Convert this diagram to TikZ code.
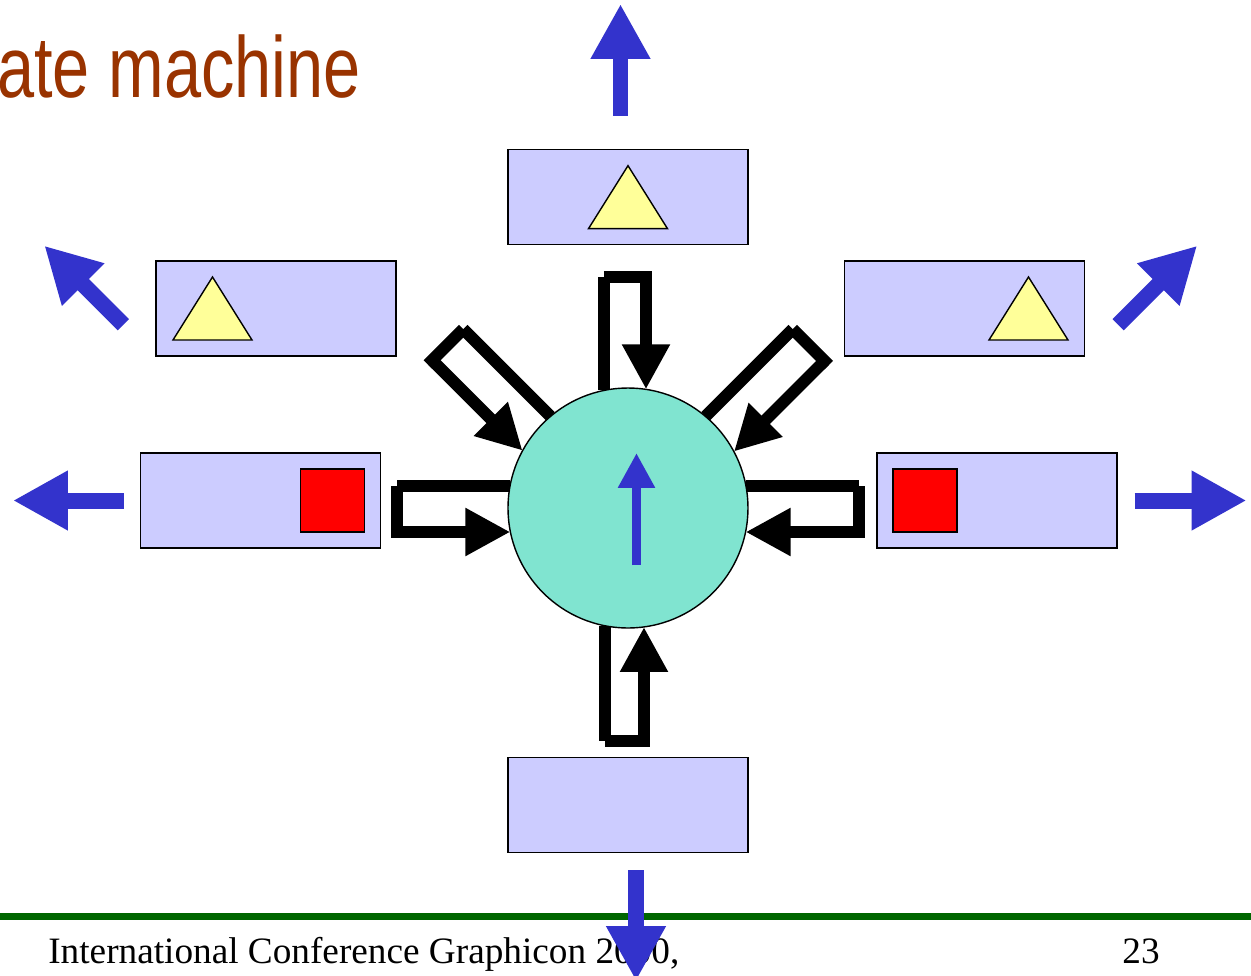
\documentclass[tikz,border=0pt]{standalone}
\usepackage{fontspec}
\usetikzlibrary{arrows.meta}
\usetikzlibrary{positioning}
\usetikzlibrary{calc}
\newfontfamily\titlefont[FakeStretch=0.77]{Liberation Sans}
\newfontfamily\footfont{Liberation Serif}
\definecolor{slotblue}{RGB}{204,204,255}
\definecolor{coregreen}{RGB}{128,228,208}
\definecolor{outblue}{RGB}{51,51,204}
\definecolor{tokenyellow}{RGB}{255,255,153}
\definecolor{titlebrown}{RGB}{153,51,0}
\definecolor{footgreen}{RGB}{0,102,0}
\tikzset{node distance=2.5cm,
    slot/.style={
        draw,
        line width=0.8pt,
        fill=slotblue,
        minimum width=4.8cm,
        minimum height=1.9cm,
        inner sep=0pt},
    core/.style={
        circle,
        draw,
        line width=0.8pt,
        fill=coregreen,
        minimum size=4.8cm,
        inner sep=0pt},
    token/.style={
        draw,
        line width=0.8pt,
        fill=tokenyellow},
    flag/.style={
        draw,
        line width=0.8pt,
        fill=red,
        minimum width=1.28cm,
        minimum height=1.26cm,
        inner sep=0pt},
    emit/.style={
        draw=outblue,
        line width=0.32cm,
        -{Triangle[length=1.1cm,width=1.12cm,color=outblue]}},
    feed/.style={
        draw,
        line width=0.24cm},
    feedback/.style={
        feed,
        -{Triangle[length=0.9cm,width=0.9cm]}}}

% out of the state, across, and back in with a head
% #1 direction, #2 outgoing side, #3 returning side, #4 reach
\newcommand{\selfloop}[4]{%
    \begin{scope}[shift={(st.center)},rotate=#1]
        \draw[feed] ({sqrt(14400-(#2)*(#2))},#2) -- (#4,#2);
        \draw[feed] (#4,#2) -- (#4,{(#3)+6*sign((#3)-(#2))});
        \draw[feedback] (#4,#3) -- ({sqrt(14400-(#3)*(#3))},#3);
    \end{scope}}

\begin{document}
\begin{tikzpicture}[x=0.02cm,y=0.02cm]
        \useasboundingbox (-628,-467) rectangle (623,508);

        \node[anchor=base west,inner sep=0pt,text=titlebrown,
              font=\titlefont\fontsize{49.3}{55}\selectfont] (title) at (-631,411) {ate machine};

        \node[core] (st) at (0,0) {};
        \node[slot,above=2.84cm of st] (tslot) {};
        \node[slot,below=2.56cm of st] (bslot) {};
        \node[slot,left=2.52cm of st,yshift=0.15cm] (lslot) {};
        \node[slot,right=2.55cm of st,yshift=0.15cm] (rslot) {};
        \node[slot] (ulslot) at (-352,199.5) {};
        \node[slot] (urslot) at (336.5,199.5) {};

        \draw[token,shift={(tslot.center)}] (-39.5,-31.5) -- (39.5,-31.5) -- (0,31.5) -- cycle;
        \draw[token,shift={(ulslot.center)}] (-103,-31.5) -- (-24,-31.5) -- (-63.5,31.5) -- cycle;
        \draw[token,shift={(urslot.center)}] (24.5,-31.5) -- (103.5,-31.5) -- (64,31.5) -- cycle;
        \node[flag,xshift=1.44cm] (lflag) at (lslot.center) {};
        \node[flag,xshift=-1.44cm] (rflag) at (rslot.center) {};

        \selfloop{90}{24}{-18}{231}
        \selfloop{270}{-23}{16}{233}
        \selfloop{180}{-22}{24}{231}
        \selfloop{0}{22}{-24}{231}
        \selfloop{135}{-10}{34}{243}
        \selfloop{45}{10}{-35}{243}

        \draw[emit,line width=0.18cm,-{Triangle[length=0.7cm,width=0.7cm,color=outblue]}]
            ($(st.center)+(8.5,-57)$) -- ++(0,112);

        \draw[emit] ($(tslot.north)+(-7.5,33)$) -- ++(0,112);
        \draw[emit] ($(ulslot.south west)+(-32,32)$) -- ++(-79,79);
        \draw[emit] ($(urslot.south east)+(33,32)$) -- ++(79,79);
        \draw[emit] ($(lslot.west)+(-16,0)$) -- ++(-111,0);
        \draw[emit] ($(rslot.east)+(17,0)$) -- ++(112,0);

        \draw[footgreen,line width=0.14cm] (-628,-408.5) -- (623,-408.5);
        \node[anchor=base west,inner sep=0pt,
              font=\footfont\fontsize{21.2}{24}\selectfont] (conf) at (-580,-455)
              {International Conference Graphicon 2000,};
        \node[anchor=base east,inner sep=0pt,
              font=\footfont\fontsize{21.2}{24}\selectfont] (page) at (532,-455) {23};

        \draw[emit] ($(bslot.south)+(8,-17)$) -- ++(0,-111);
    \end{tikzpicture}
\end{document}
